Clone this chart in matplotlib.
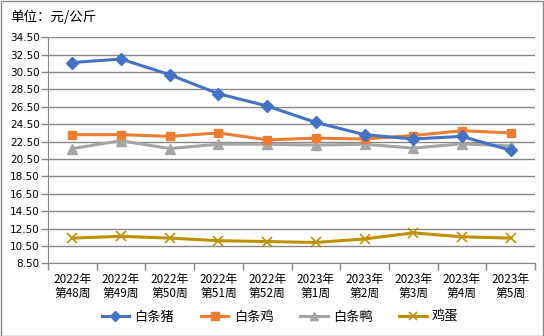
import matplotlib
matplotlib.use("Agg")
import matplotlib.pyplot as plt
from matplotlib.patches import Rectangle
from matplotlib.ticker import FixedLocator, NullFormatter

plt.rcParams['font.family'] = ['Noto Sans CJK SC', 'DejaVu Sans']

categories = ["2022年\n第48周", "2022年\n第49周", "2022年\n第50周", "2022年\n第51周", "2022年\n第52周",
              "2023年\n第1周", "2023年\n第2周", "2023年\n第3周", "2023年\n第4周", "2023年\n第5周"]
pork = [31.6, 32.0, 30.2, 28.0, 26.6, 24.7, 23.3, 22.8, 23.1, 21.5]
chicken = [23.3, 23.3, 23.1, 23.5, 22.7, 22.9, 22.8, 23.2, 23.75, 23.5]
duck = [21.7, 22.6, 21.7, 22.2, 22.2, 22.1, 22.2, 21.75, 22.25, 22.0]
egg = [11.4, 11.6, 11.4, 11.1, 11.0, 10.9, 11.3, 12.0, 11.55, 11.4]
series_names = ["白条猪", "白条鸡", "白条鸭", "鸡蛋"]
yticks = [8.5 + 2 * i for i in range(14)]

fig = plt.figure(figsize=(5.44, 3.36), dpi=100)
ax = fig.add_axes([48 / 544, 1 - 263.3 / 336, (535 - 48) / 544, (263.3 - 37.3) / 336])

x = list(range(len(categories)))
ax.plot(x, pork, color="#4472C4", lw=2.2, marker="D", ms=6.5, label=series_names[0], zorder=5)
ax.plot(x, chicken, color="#ED7D31", lw=2.2, marker="s", ms=6, label=series_names[1], zorder=4)
ax.plot(x, duck, color="#A5A5A5", lw=2.2, marker="^", ms=7.5, label=series_names[2], zorder=3)
ax.plot(x, egg, color="#BF9000", lw=2.2, marker="x", ms=7.5, mew=1.2, label=series_names[3], zorder=3)

ax.set_xlim(-0.5, len(categories) - 0.5)
ax.set_ylim(8.5, 34.5)
ax.set_yticks(yticks)
ax.set_yticklabels([f"{v:.2f}" for v in yticks], fontsize=7.5, family="DejaVu Sans")
ax.grid(axis="y", color="#898989", lw=1)
ax.set_axisbelow(True)

ax.set_xticks(x)
ax.set_xticklabels(categories, fontsize=8.5, linespacing=1.1)
ax.xaxis.set_minor_locator(FixedLocator([i - 0.5 for i in range(len(categories) + 1)]))
ax.xaxis.set_minor_formatter(NullFormatter())
ax.tick_params(axis="x", which="major", length=0, pad=7)
ax.tick_params(axis="x", which="minor", length=5, color="#898989", width=1)
ax.tick_params(axis="y", length=5, color="#898989", width=1, pad=1)

for s in ["top", "right"]:
    ax.spines[s].set_visible(False)
ax.spines["left"].set_color("#898989")
ax.spines["bottom"].set_color("#898989")

fig.text(10 / 544, 1 - 17 / 336, "单位：元/公斤", fontsize=9.7, va="center", ha="left")

fig.legend(loc="center", bbox_to_anchor=(280 / 544, 1 - 317 / 336), ncol=4, frameon=False,
           fontsize=9.5, handlelength=2.1, handletextpad=0.4, columnspacing=2.0,
           markerscale=0.85)

fig.patches.append(Rectangle((0.001, 0.001), 0.997, 0.997, transform=fig.transFigure,
                             fill=False, edgecolor="#898989", lw=1))

fig.savefig("out.png", dpi=100)
